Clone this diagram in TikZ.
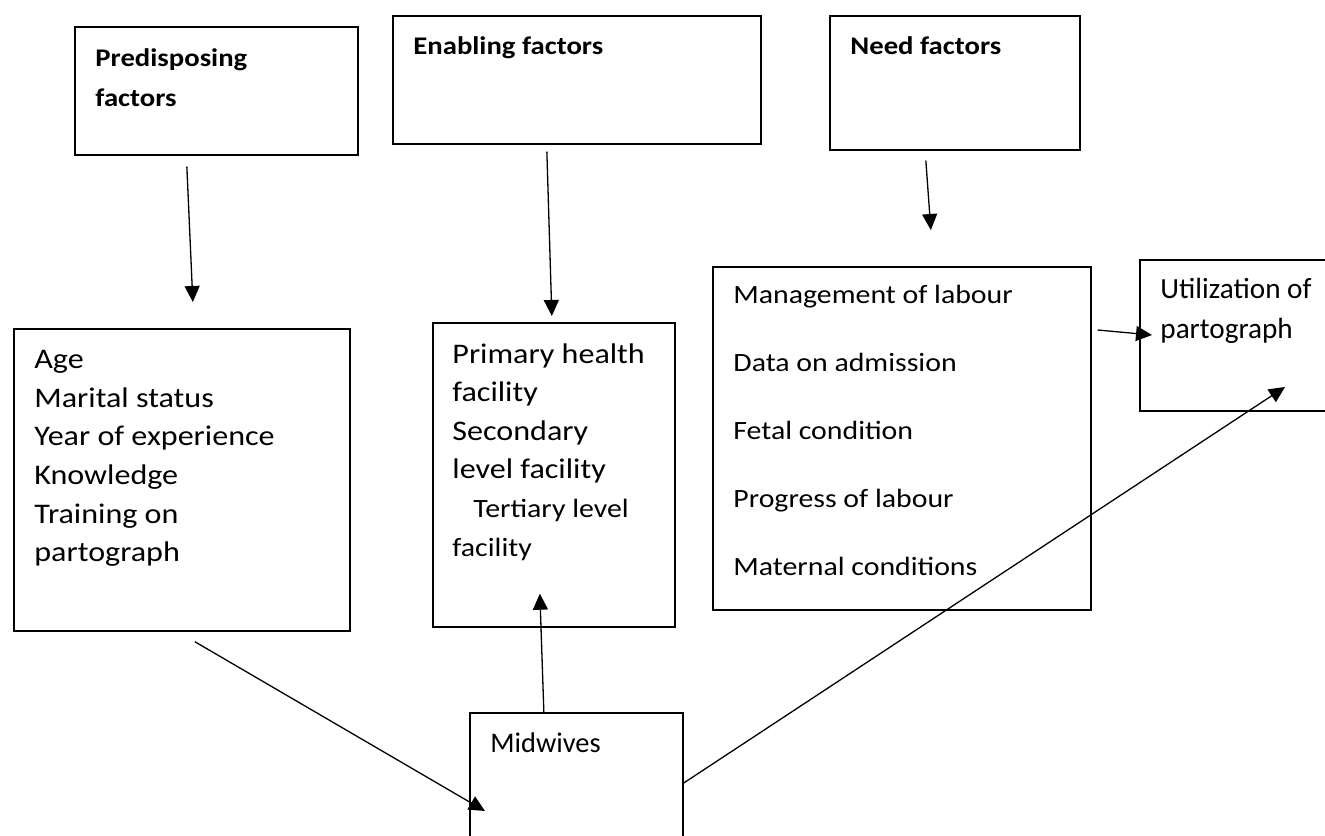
\documentclass[tikz,border=0pt]{standalone}
\usepackage{fontspec}
\setmainfont{Carlito}
\newfontfamily\ancha{Carlito}[FakeStretch=1.13]
\usetikzlibrary{arrows.meta}

\begin{document}
\begin{tikzpicture}[
  x=0.5pt, y=-0.5pt,
  caja/.style={draw=black, line width=0.85pt, rectangle, inner sep=0pt, anchor=north west},
  texto/.style={anchor=north west, inner sep=0pt, align=left, font=\ancha\fontsize{14.2}{19.3}\selectfont},
  titulo/.style={texto, font=\ancha\bfseries\fontsize{12.7}{20}\selectfont},
  flecha/.style={line width=0.65pt, -{Triangle[length=8pt, width=7.5pt]}}
]
\useasboundingbox (0,0) rectangle (1325,835);
\clip (0,0) rectangle (1325,835);

% factores
\node[caja, minimum width=141.5pt, minimum height=64pt] (pre) at (74,26) {};
\node[caja, minimum width=184pt, minimum height=64pt] (ena) at (392,15) {};
\node[caja, minimum width=125pt, minimum height=67pt] (need) at (829,15) {};
\node[titulo] (preT) at (95,48) {Predisposing\\factors};
\node[titulo] (enaT) at (413,36) {Enabling factors};
\node[titulo] (needT) at (850,36) {Need factors};

% variables
\node[caja, minimum width=168pt, minimum height=151pt] (age) at (13,328) {};
\node[caja, minimum width=121pt, minimum height=152pt] (prim) at (432,322) {};
\node[caja, minimum width=189pt, minimum height=171.5pt] (mgmt) at (712,266) {};
\node[caja, minimum width=103pt, minimum height=75.5pt] (util) at (1139,259) {};
\node[caja, minimum width=106.5pt, minimum height=70pt] (mid) at (469,712) {};

\node[texto] (ageT) at (34,350)
  {Age\\Marital status\\Year of experience\\Knowledge\\Training on\\partograph};
\node[texto] (primT) at (452,343)
  {Primary health\\facility\\Secondary\\level facility\\
   {\fontsize{13.2}{19.3}\selectfont\hspace*{10.5pt}Tertiary level}\\
   {\fontsize{13.2}{19.3}\selectfont facility}};
\node[texto, font=\ancha\fontsize{13.2}{34}\selectfont] (mgmtT) at (733,285)
  {Management of labour\\Data on admission\\Fetal condition\\Progress of labour\\Maternal conditions};
\node[texto, font=\rmfamily\fontsize{14.6}{20}\selectfont] (utilT) at (1160,278) {Utilization of\\partograph};
\node[texto, font=\rmfamily\fontsize{14.2}{19.3}\selectfont] (midT) at (490,732) {Midwives};

% flechas
\draw[flecha] ([shift={(-29.5,11)}]pre.south) -- ([shift={(11,-26)}]age.north);
\draw[flecha] ([shift={(-30,7)}]ena.south) -- ([shift={(-2,-6)}]prim.north);
\draw[flecha] ([shift={(-29,10)}]need.south) -- ([shift={(29,-36)}]mgmt.north);
\draw[flecha] ([shift={(6,64)}]mgmt.north east) -- ([shift={(13,76)}]util.north west);
\draw[flecha] ([shift={(13,10)}]age.south) -- ([shift={(16,99)}]mid.north west);
\draw[flecha] ([shift={(-32.5,0)}]mid.north) -- ([shift={(-14,-34)}]prim.south);
\draw[flecha] ([shift={(0,71)}]mid.north east) -- ([shift={(146,128)}]util.north west);
\end{tikzpicture}
\end{document}
